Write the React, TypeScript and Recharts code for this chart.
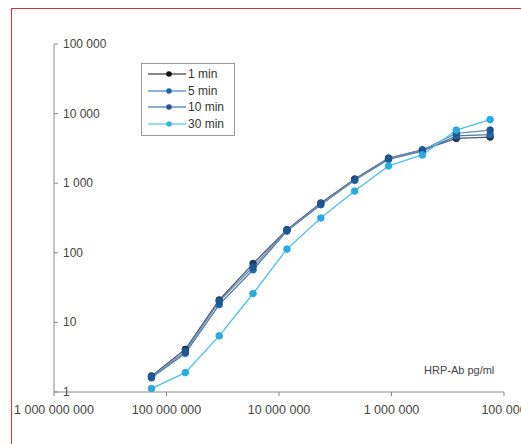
import React from "react";
import { LineChart, Line, XAxis, YAxis } from "recharts";

const dilution = [136000000, 68000000, 34000000, 17000000, 8500000, 4250000, 2125000, 1062500, 531250, 265625, 132800];
const min1 = [1.7, 4.1, 21, 70, 215, 520, 1150, 2300, 3000, 4400, 4600];
const min5 = [1.6, 3.6, 18, 57, 205, 490, 1100, 2200, 2900, 4800, 5000];
const min10 = [1.65, 3.8, 20, 63, 210, 505, 1120, 2250, 3000, 5200, 5800];
const min30 = [1.12, 1.9, 6.4, 26, 113, 316, 770, 1770, 2550, 5800, 8200];

const xTicks = [1000000000, 100000000, 10000000, 1000000, 100000];
const xTickLabels = ["1 000 000 000", "100 000 000", "10 000 000", "1 000 000", "100 000"];
const yTicks = [1, 10, 100, 1000, 10000, 100000];
const yTickLabels = ["1", "10", "100", "1 000", "10 000", "100 000"];

const seriesNames = ["1 min", "5 min", "10 min", "30 min"];
const seriesKeys = ["m1", "m5", "m10", "m30"];
const lineColors = ["#4f5866", "#4d7aac", "#6a8db6", "#4cc0ea"];
const dotColors = ["#1f3552", "#2166ab", "#1d5893", "#2aabe0"];
const legendColors = ["#111111", "#1f66b0", "#1d5893", "#31b6e6"];

const data = dilution.map((x, i) => ({
  x,
  m1: min1[i],
  m5: min5[i],
  m10: min10[i],
  m30: min30[i],
}));

const fmt = (labels: string[], ticks: number[]) => (v: number) => {
  const i = ticks.findIndex((t) => Math.abs(t - v) / t < 1e-6);
  return i >= 0 ? labels[i] : String(v);
};
const yFmt = fmt(yTickLabels, yTicks);

const YTick = (props: any) => {
  const { x, y, payload } = props;
  const label = yFmt(payload.value);
  return (
    <text x={x} y={y} dy={4} textAnchor="start" fill="#444" fontSize={12} fontFamily="Liberation Sans, Arial, sans-serif">
      {label}
    </text>
  );
};

const LegendBox = () => (
  <div
    style={{
      position: "absolute",
      left: 141,
      top: 63,
      border: "1px solid #9a9a9a",
      background: "#fff",
      width: 92,
      padding: "2px 0 3px 0",
      fontFamily: "Liberation Sans, Arial, sans-serif",
      fontSize: 12,
      color: "#333",
    }}
  >
    {seriesNames.map((n, i) => (
      <div key={n} style={{ display: "flex", alignItems: "center", height: 16.5 }}>
        <svg width={44} height={10} style={{ marginLeft: 4 }}>
          <line x1={2} y1={5} x2={40} y2={5} stroke={legendColors[i]} strokeWidth={1.2} />
          <circle cx={23} cy={5} r={2.8} fill={legendColors[i]} />
        </svg>
        <span style={{ marginLeft: -2 }}>{n}</span>
      </div>
    ))}
  </div>
);

export default function App() {
  return (
    <div
      style={{
        position: "fixed",
        left: 0,
        top: 0,
        width: 521,
        height: 444,
        background: "#fff",
        overflow: "hidden",
        fontFamily: "Liberation Sans, Arial, sans-serif",
      }}
    >
      <div
        style={{
          position: "absolute",
          left: 11,
          top: 8,
          width: 560,
          height: 500,
          borderLeft: "1.5px solid #d8333c",
          borderTop: "1.5px solid #d8333c",
        }}
      />
      <div style={{ position: "absolute", left: 0, top: 0 }}>
        <LineChart width={521} height={444} data={data} margin={{ top: 44, right: 17, bottom: 20, left: 54 }}>
          <XAxis
            dataKey="x"
            type="number"
            scale="log"
            domain={[100000, 1000000000]}
            reversed
            allowDataOverflow
            ticks={xTicks}
            tickFormatter={fmt(xTickLabels, xTicks)}
            height={32}
            tickSize={4}
            tickMargin={9}
            stroke="#8a8a8a"
            tick={{ fill: "#444", fontSize: 12.5 }}
            interval={0}
          />
          <YAxis
            type="number"
            scale="log"
            domain={[1, 100000]}
            allowDataOverflow
            ticks={yTicks}
            tick={<YTick />}
            mirror
            width={1}
            tickSize={4}
            tickMargin={5}
            stroke="#8a8a8a"
            interval={0}
          />
          {seriesKeys.map((k, i) => (
            <Line
              key={k}
              dataKey={k}
              name={seriesNames[i]}
              stroke={lineColors[i]}
              strokeWidth={1.3}
              dot={{ r: 3.3, fill: dotColors[i], stroke: dotColors[i], strokeWidth: 1 }}
              isAnimationActive={false}
            />
          ))}
        </LineChart>
      </div>
      <LegendBox />
      <div
        style={{
          position: "absolute",
          left: 424,
          top: 364,
          fontSize: 11,
          color: "#444",
          whiteSpace: "nowrap",
        }}
      >
        HRP-Ab pg/ml
      </div>
    </div>
  );
}
